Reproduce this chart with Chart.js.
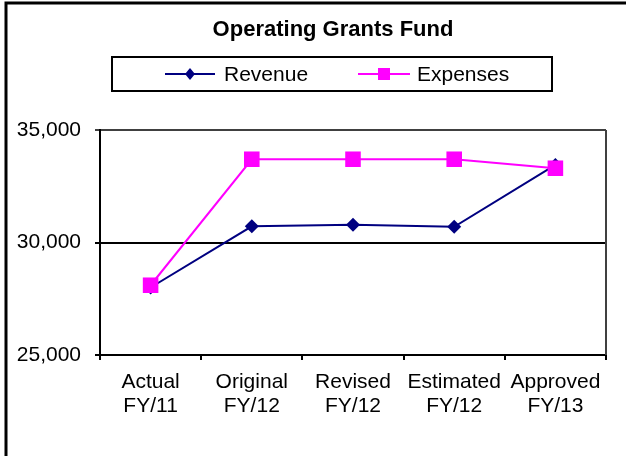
<!DOCTYPE html>
<html>
<head>
<meta charset="utf-8">
<script src="https://cdn.jsdelivr.net/npm/chart.js@4/dist/chart.umd.min.js"></script>
<style>
  html, body { margin: 0; padding: 0; background: #ffffff; }
  #wrap { width: 626px; height: 456px; position: relative; }
  canvas { display: block; }
</style>
</head>
<body>
<div id="wrap"><canvas id="c" width="626" height="456"></canvas></div>
<script>
const chartTitle = 'Operating Grants Fund';
const categories = [['Actual', 'FY/11'], ['Original', 'FY/12'], ['Revised', 'FY/12'], ['Estimated', 'FY/12'], ['Approved', 'FY/13']];
const seriesNames = ['Revenue', 'Expenses'];
const revenue = [28000, 30720, 30790, 30700, 33450];
const expenses = [28100, 33700, 33700, 33700, 33300];
const yTicks = [25000, 30000, 35000];

const FONT = "'Liberation Sans', Arial, sans-serif";
const NAVY = '#000080';
const MAGENTA = '#FF00FF';

const framePlugin = {
  id: 'frame',
  beforeDraw(chart) {
    const ctx = chart.ctx;
    ctx.save();
    ctx.fillStyle = '#ffffff';
    ctx.fillRect(0, 0, chart.width, chart.height);
    ctx.restore();
  },
  afterDraw(chart) {
    const ctx = chart.ctx;
    const a = chart.chartArea;
    ctx.save();
    // outer frame (top + left)
    ctx.strokeStyle = '#000000';
    ctx.lineWidth = 3;
    ctx.beginPath();
    ctx.moveTo(6, chart.height);
    ctx.lineTo(6, 3);
    ctx.lineTo(chart.width, 3);
    ctx.stroke();
    // plot right border
    ctx.strokeStyle = '#404040';
    ctx.lineWidth = 2;
    ctx.beginPath();
    ctx.moveTo(a.right, a.top);
    ctx.lineTo(a.right, a.bottom);
    ctx.stroke();

    // title
    ctx.fillStyle = '#000000';
    ctx.font = 'bold 22px ' + FONT;
    ctx.textAlign = 'center';
    ctx.textBaseline = 'alphabetic';
    ctx.fillText(chartTitle, 333, 36);

    // legend box
    ctx.strokeStyle = '#000000';
    ctx.lineWidth = 2;
    ctx.strokeRect(112, 57, 440, 34);
    const ly = 74;
    ctx.font = '21px ' + FONT;
    ctx.textBaseline = 'middle';
    ctx.textAlign = 'left';
    // Revenue item
    ctx.strokeStyle = NAVY;
    ctx.lineWidth = 2;
    ctx.beginPath(); ctx.moveTo(165, ly); ctx.lineTo(215, ly); ctx.stroke();
    ctx.fillStyle = NAVY;
    ctx.beginPath();
    ctx.moveTo(190 - 5, ly); ctx.lineTo(190, ly - 6); ctx.lineTo(190 + 5, ly); ctx.lineTo(190, ly + 6);
    ctx.closePath(); ctx.fill();
    ctx.fillStyle = '#000000';
    ctx.fillText(chart.data.datasets[0].label, 224, ly + 1);
    // Expenses item
    ctx.strokeStyle = MAGENTA;
    ctx.beginPath(); ctx.moveTo(358, ly); ctx.lineTo(410, ly); ctx.stroke();
    ctx.fillStyle = MAGENTA;
    ctx.fillRect(384 - 6, ly - 6, 12, 12);
    ctx.fillStyle = '#000000';
    ctx.fillText(chart.data.datasets[1].label, 417, ly + 1);
    ctx.restore();
  }
};

new Chart(document.getElementById('c'), {
  type: 'line',
  data: {
    labels: categories,
    datasets: [
      {
        label: seriesNames[0],
        data: revenue,
        borderColor: NAVY,
        backgroundColor: NAVY,
        borderWidth: 2,
        pointStyle: 'rectRot',
        pointRadius: 7,
        pointBorderWidth: 0,
        pointBackgroundColor: NAVY,
        tension: 0,
        order: 1
      },
      {
        label: seriesNames[1],
        data: expenses,
        borderColor: MAGENTA,
        backgroundColor: MAGENTA,
        borderWidth: 2,
        pointStyle: 'rect',
        pointRadius: 11,
        pointBorderWidth: 0,
        pointBackgroundColor: MAGENTA,
        tension: 0,
        order: 0
      }
    ]
  },
  options: {
    responsive: false,
    animation: false,
    devicePixelRatio: 1,
    layout: { padding: { left: 0, right: 20, top: 130, bottom: 0 } },
    plugins: {
      legend: { display: false },
      tooltip: { enabled: false },
      title: { display: false }
    },
    scales: {
      x: {
        type: 'category',
        offset: true,
        afterFit(scale) { scale.height = 101; },
        grid: {
          offset: true,
          drawOnChartArea: false,
          drawTicks: true,
          tickLength: 5,
          color: '#000000',
          lineWidth: 2
        },
        border: { display: true, color: '#000000', width: 2 },
        ticks: {
          color: '#000000',
          font: { family: FONT, size: 21, lineHeight: 1.15 },
          padding: 10,
          maxRotation: 0,
          autoSkip: false
        }
      },
      y: {
        min: yTicks[0],
        max: yTicks[yTicks.length - 1],
        afterFit(scale) { scale.width = 100; },
        afterBuildTicks(scale) { scale.ticks = yTicks.map(v => ({ value: v })); },
        grid: {
          drawTicks: true,
          tickLength: 5,
          lineWidth: 2,
          color: (ctx) => (ctx.tick && ctx.tick.value === yTicks[yTicks.length - 1]) ? '#404040' : '#000000'
        },
        border: { display: true, color: '#000000', width: 2 },
        ticks: {
          color: '#000000',
          font: { family: FONT, size: 21 },
          padding: 14,
          callback: (v) => Number(v).toLocaleString('en-US')
        }
      }
    }
  },
  plugins: [framePlugin]
});
</script>
</body>
</html>
